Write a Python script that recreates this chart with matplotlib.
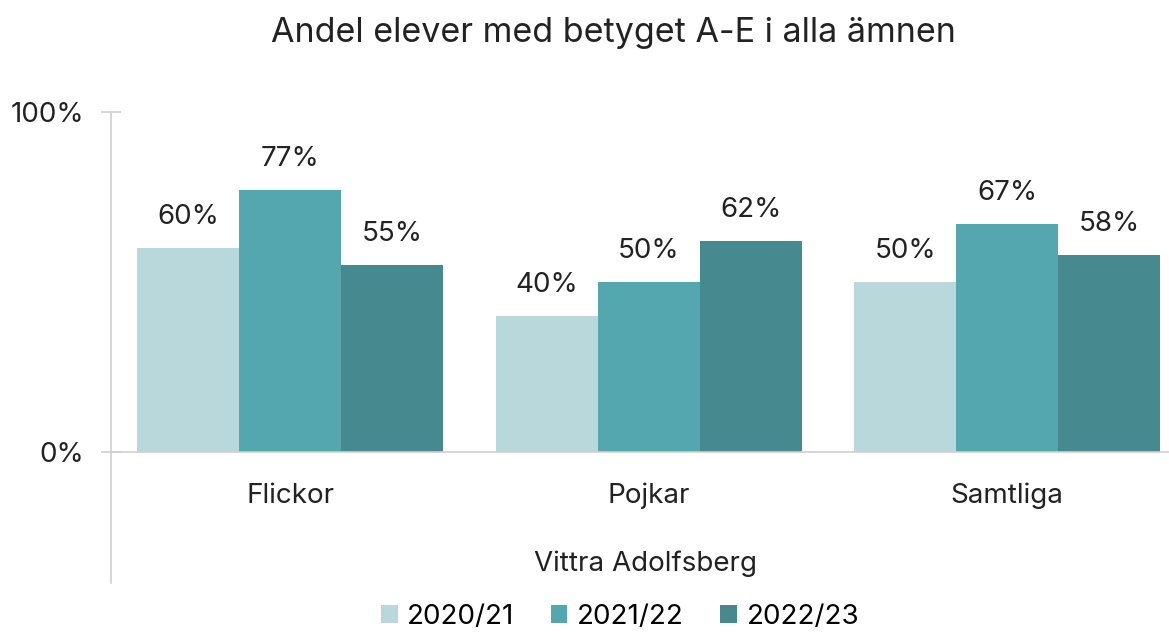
import numpy as np
import matplotlib.pyplot as plt
from matplotlib.lines import Line2D

plt.rcParams['font.family'] = ['Inter', 'DejaVu Sans']

categories = ['Flickor', 'Pojkar', 'Samtliga']
years = ['2020/21', '2021/22', '2022/23']
values = {
    '2020/21': [60, 40, 50],
    '2021/22': [77, 50, 67],
    '2022/23': [55, 62, 58],
}
colors = ['#b8d8dc', '#54a7af', '#468a8f']

W, H = 1169, 632
fig = plt.figure(figsize=(W / 100, H / 100), dpi=100)
ax = fig.add_axes([111 / W, 1 - 452 / H, 3 * 358.5 / W, 340 / H])

x = np.arange(len(categories))
bw = 102 / 358.5
for i, yr in enumerate(years):
    pos = x + (i - 1) * bw
    ax.bar(pos, values[yr], width=bw, color=colors[i], label=yr)
    for p, v in zip(pos, values[yr]):
        ax.text(p, v + 9.2, f'{v}%', ha='center', va='center', fontsize=20, color='#222222')

ax.set_xlim(-0.5, 2.5)
ax.set_ylim(0, 100)
ax.set_yticks([0, 100])
ax.set_yticklabels(['0%', '100%'], fontsize=20, color='#222222')
ax.tick_params(axis='y', direction='inout', length=15, color='#d0d0d0', width=1.2, pad=12)
ax.set_xticks([])
for s in ['top', 'right', 'bottom', 'left']:
    ax.spines[s].set_visible(False)

# axis lines
ax.add_line(Line2D([0, 0], [1, -131 / 340], transform=ax.transAxes, color='#d0d0d0', lw=1.2, clip_on=False))
ax.axhline(0, color='#d0d0d0', lw=1.2, clip_on=False)

for xi, c in zip(x, categories):
    ax.text(xi, -13, c, ha='center', va='center', fontsize=20, color='#222222')

fig.text(645 / W, 1 - 564 / H, 'Vittra Adolfsberg', ha='center', va='center', fontsize=20, color='#222222')
fig.suptitle('Andel elever med betyget A-E i alla ämnen', x=613 / W, y=1 - 33 / H, va='center', fontsize=24.5, color='#222222')

fig.legend(loc='center', bbox_to_anchor=(620 / W, 1 - 617 / H), ncol=3, frameon=False, fontsize=20,
           handlelength=0.6, handleheight=0.6, handletextpad=0.35, columnspacing=1.3)

fig.savefig('out.png', dpi=100)
